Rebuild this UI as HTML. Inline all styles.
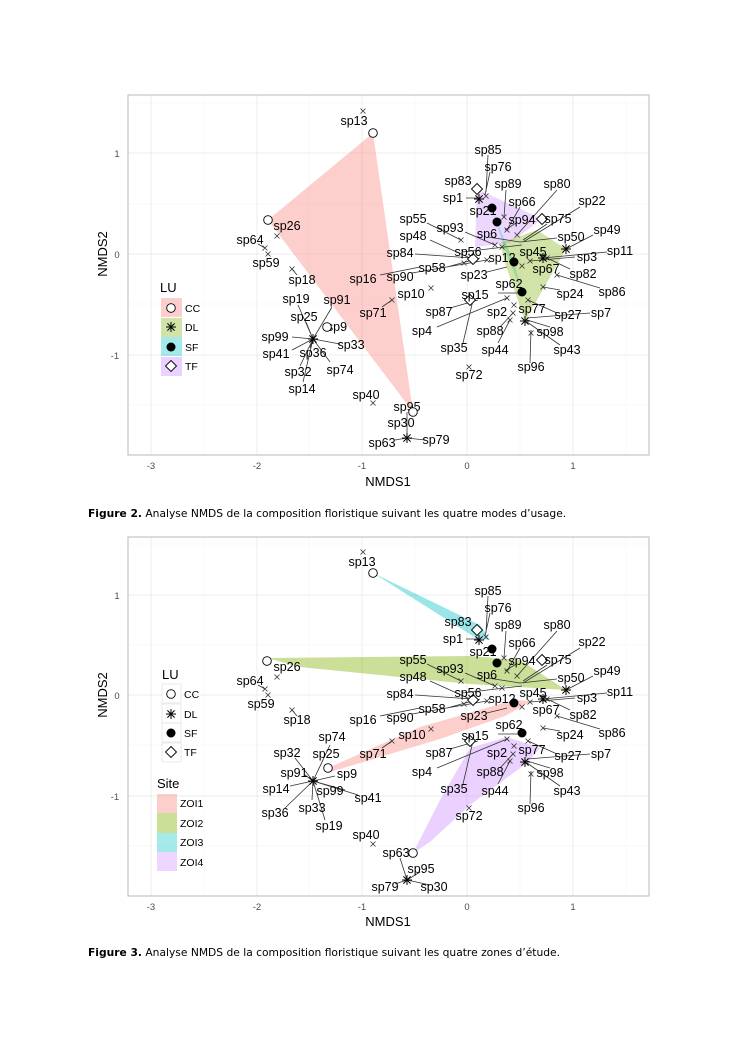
<!DOCTYPE html>
<html><head><meta charset="utf-8"><style>
body{margin:0;background:#fff;width:745px;height:1053px;overflow:hidden}
svg{position:absolute;left:0;top:0}
.l{font:12.5px "Liberation Sans",sans-serif;fill:#000;text-anchor:middle}
.t{font:9.5px "Liberation Sans",sans-serif;fill:#4d4d4d;text-anchor:middle}
.a{font:13px "Liberation Sans",sans-serif;fill:#000;text-anchor:middle}
.k{font:10.5px "Liberation Sans",sans-serif;fill:#000}
.c{font:10.7px "DejaVu Sans",sans-serif;fill:#000}
.ln{stroke:#333;stroke-width:.8;fill:none}
.mj{stroke:#e8e8e8;stroke-width:.8}
.mn{stroke:#f4f4f4;stroke-width:.6}
</style></head><body>
<svg width="745" height="1053" viewBox="0 0 745 1053">
<defs>
<g id="x"><path d="M-2.5,-2.5L2.5,2.5M-2.5,2.5L2.5,-2.5" stroke="#333" stroke-width=".8"/></g>
<g id="s"><path d="M-5,0H5M0,-5V5M-3.6,-3.6L3.6,3.6M-3.6,3.6L3.6,-3.6" stroke="#000" stroke-width="1"/></g>
<g id="o"><circle r="4.3" fill="#fff" stroke="#000" stroke-width=".9"/></g>
<g id="f"><circle r="4.5" fill="#000"/></g>
<g id="d"><path d="M0,-5.5L5.5,0L0,5.5L-5.5,0Z" fill="#fff" stroke="#000" stroke-width=".9"/></g>
</defs>

<!-- ============ FIGURE 2 ============ -->
<g id="p2">
<rect x="128" y="95" width="521" height="360" fill="#fff"/>
<g class="mn"><line x1="204" y1="95" x2="204" y2="455"/><line x1="309" y1="95" x2="309" y2="455"/><line x1="415" y1="95" x2="415" y2="455"/><line x1="520" y1="95" x2="520" y2="455"/><line x1="626" y1="95" x2="626" y2="455"/>
<line x1="128" y1="103" x2="649" y2="103"/><line x1="128" y1="204" x2="649" y2="204"/><line x1="128" y1="304" x2="649" y2="304"/><line x1="128" y1="405" x2="649" y2="405"/></g>
<g class="mj"><line x1="151" y1="95" x2="151" y2="455"/><line x1="257" y1="95" x2="257" y2="455"/><line x1="362" y1="95" x2="362" y2="455"/><line x1="467" y1="95" x2="467" y2="455"/><line x1="573" y1="95" x2="573" y2="455"/>
<line x1="128" y1="153" x2="649" y2="153"/><line x1="128" y1="254" x2="649" y2="254"/><line x1="128" y1="355" x2="649" y2="355"/></g>
<rect x="128" y="95" width="521" height="360" fill="none" stroke="#b8b8b8" stroke-width="1"/>
<polygon points="373,133 268,220 413,412" fill="#F8766D" fill-opacity=".35"/>
<polygon points="477,189 542,219 510,243 475,247" fill="#C77CFF" fill-opacity=".3"/>
<polygon points="492,208 497,222 514,262 522,292 505,250" fill="#00BFC4" fill-opacity=".3"/>
<polygon points="500,243 537,230 566,249 525,321 505,263" fill="#7CAE00" fill-opacity=".35"/>
<g class="ln"><path d="M313,339L298,305M313,339L332,307M313,339L306,322M313,339L292,337M313,339L340,344M313,339L292,350M313,339L310,348M313,339L300,366M313,339L330,362M313,339L303,382"/>
<path d="M407,438V412M407,438L395,440M407,438L425,440"/></g>
<g class="l">
<text x="296" y="303">sp19</text><text x="337" y="304">sp91</text><text x="304" y="321">sp25</text><text x="337" y="331">sp9</text>
<text x="275" y="341">sp99</text><text x="351" y="349">sp33</text><text x="276" y="358">sp41</text><text x="313" y="357">sp36</text>
<text x="298" y="376">sp32</text><text x="340" y="374">sp74</text><text x="302" y="393">sp14</text>
<text x="407" y="411">sp95</text><text x="401" y="427">sp30</text><text x="382" y="447">sp63</text><text x="436" y="444">sp79</text>
</g>
<use href="#s" x="313" y="339"/><use href="#s" x="407" y="438"/>
<use href="#o" x="373" y="133"/><use href="#o" x="268" y="220"/><use href="#o" x="327" y="327"/><use href="#o" x="413" y="412"/>
<text class="a" x="160" y="292" style="text-anchor:start">LU</text>
<rect x="161" y="298" width="21" height="19" fill="#F8766D" fill-opacity=".35"/>
<rect x="161" y="318" width="21" height="19" fill="#7CAE00" fill-opacity=".35"/>
<rect x="161" y="337" width="21" height="19" fill="#00BFC4" fill-opacity=".35"/>
<rect x="161" y="357" width="21" height="19" fill="#C77CFF" fill-opacity=".35"/>
<use href="#o" x="171" y="308"/><use href="#s" x="171" y="327"/><use href="#f" x="171" y="347"/><use href="#d" x="171" y="366"/>
<g class="k"><text x="185" y="312">CC</text><text x="185" y="331">DL</text><text x="185" y="351">SF</text><text x="185" y="370">TF</text></g>
<g class="t"><text x="117" y="157">1</text><text x="117" y="258">0</text><text x="115" y="359">-1</text>
<text x="151" y="469">-3</text><text x="257" y="469">-2</text><text x="362" y="469">-1</text><text x="467" y="469">0</text><text x="573" y="469">1</text></g>
<text class="a" x="388" y="486">NMDS1</text>
<text class="a" transform="translate(107,254) rotate(-90)">NMDS2</text>
</g>

<g id="sh">
<g class="ln">
<path d="M427,223L461,240M430,240L470,258M415,254L472,258M380,275L420,267M412,273L487,260M447,267L480,258M465,232L495,245M557,190L517,235M580,207L523,242M547,224L523,240M557,238L520,242M593,235L566,249M607,252L543,258M575,257L530,261M570,269L547,258M600,288L557,275M560,290L543,287M498,293L522,293M437,327L507,298M463,343L473,300M498,343L510,320M500,327L513,313M550,327L527,320M560,345L527,322M530,363L531,330M590,313L527,318M557,313L528,300M506,190L504,217M490,172L485,195M488,155L486,192M520,207L507,230M516,223L505,230M487,272L507,267M480,198L466,198M488,237L520,242M450,308L478,300M462,252L522,245"/>
<path d="M265,248L258,244M292,269L297,275M392,300L382,307"/>
</g>
<g>
<use href="#x" x="363" y="111"/><use href="#x" x="277" y="236"/><use href="#x" x="265" y="248"/><use href="#x" x="268" y="254"/><use href="#x" x="292" y="269"/><use href="#x" x="392" y="300"/><use href="#x" x="373" y="403"/><use href="#x" x="431" y="288"/>
<use href="#x" x="461" y="240"/><use href="#x" x="504" y="217"/><use href="#x" x="486" y="196"/><use href="#x" x="507" y="230"/><use href="#x" x="517" y="235"/><use href="#x" x="495" y="245"/><use href="#x" x="502" y="247"/>
<use href="#x" x="530" y="261"/><use href="#x" x="547" y="258"/><use href="#x" x="557" y="275"/><use href="#x" x="543" y="287"/><use href="#x" x="528" y="300"/><use href="#x" x="507" y="298"/><use href="#x" x="514" y="305"/><use href="#x" x="513" y="313"/><use href="#x" x="510" y="320"/><use href="#x" x="531" y="333"/><use href="#x" x="469" y="367"/><use href="#x" x="487" y="260"/><use href="#x" x="522" y="266"/><use href="#x" x="464" y="263"/>
</g>
<use href="#s" x="479" y="199"/><use href="#s" x="566" y="249"/><use href="#s" x="543" y="258"/><use href="#s" x="525" y="321"/>
<use href="#f" x="492" y="208"/><use href="#f" x="497" y="222"/><use href="#f" x="514" y="262"/><use href="#f" x="522" y="292"/>
<use href="#d" x="477" y="189"/><use href="#d" x="542" y="219"/><use href="#d" x="473" y="259"/><use href="#d" x="470" y="300"/>
<g class="l">
<text x="354" y="125">sp13</text><text x="287" y="230">sp26</text><text x="250" y="244">sp64</text><text x="266" y="267">sp59</text><text x="302" y="284">sp18</text>
<text x="373" y="317">sp71</text><text x="363" y="283">sp16</text><text x="400" y="281">sp90</text><text x="400" y="257">sp84</text><text x="411" y="298">sp10</text><text x="366" y="399">sp40</text>
<text x="488" y="154">sp85</text><text x="498" y="171">sp76</text><text x="458" y="185">sp83</text><text x="508" y="188">sp89</text><text x="453" y="202">sp1</text>
<text x="522" y="206">sp66</text><text x="483" y="215">sp21</text><text x="522" y="224">sp94</text><text x="557" y="188">sp80</text><text x="592" y="205">sp22</text>
<text x="558" y="223">sp75</text><text x="413" y="223">sp55</text><text x="450" y="232">sp93</text><text x="413" y="240">sp48</text><text x="487" y="238">sp6</text>
<text x="571" y="241">sp50</text><text x="607" y="234">sp49</text><text x="468" y="256">sp56</text><text x="502" y="262">sp12</text><text x="533" y="256">sp45</text>
<text x="620" y="255">sp11</text><text x="587" y="261">sp3</text><text x="432" y="272">sp58</text><text x="474" y="279">sp23</text><text x="546" y="273">sp67</text>
<text x="583" y="278">sp82</text><text x="509" y="288">sp62</text><text x="612" y="296">sp86</text><text x="570" y="298">sp24</text><text x="475" y="299">sp15</text>
<text x="439" y="316">sp87</text><text x="497" y="316">sp2</text><text x="532" y="313">sp77</text><text x="568" y="319">sp27</text><text x="601" y="317">sp7</text>
<text x="422" y="335">sp4</text><text x="490" y="335">sp88</text><text x="550" y="336">sp98</text><text x="454" y="352">sp35</text><text x="495" y="354">sp44</text>
<text x="567" y="354">sp43</text><text x="531" y="371">sp96</text><text x="469" y="379">sp72</text>
</g>
</g>

<text class="c" x="88" y="517"><tspan font-weight="bold">Figure 2.</tspan> Analyse NMDS de la composition floristique suivant les quatre modes d’usage.</text>

<!-- ============ FIGURE 3 ============ -->
<g>
<rect x="128" y="537" width="521" height="359" fill="#fff"/>
<g class="mn"><line x1="204" y1="537" x2="204" y2="896"/><line x1="309" y1="537" x2="309" y2="896"/><line x1="415" y1="537" x2="415" y2="896"/><line x1="520" y1="537" x2="520" y2="896"/><line x1="626" y1="537" x2="626" y2="896"/>
<line x1="128" y1="544" x2="649" y2="544"/><line x1="128" y1="645" x2="649" y2="645"/><line x1="128" y1="745" x2="649" y2="745"/><line x1="128" y1="846" x2="649" y2="846"/></g>
<g class="mj"><line x1="151" y1="537" x2="151" y2="896"/><line x1="257" y1="537" x2="257" y2="896"/><line x1="362" y1="537" x2="362" y2="896"/><line x1="467" y1="537" x2="467" y2="896"/><line x1="573" y1="537" x2="573" y2="896"/>
<line x1="128" y1="595" x2="649" y2="595"/><line x1="128" y1="695" x2="649" y2="695"/><line x1="128" y1="796" x2="649" y2="796"/></g>
<rect x="128" y="537" width="521" height="359" fill="none" stroke="#b8b8b8" stroke-width="1"/>
<polygon points="373,573 480,625 490,640 476,638" fill="#00BFC4" fill-opacity=".4"/>
<polygon points="267,658 470,656 520,660 566,690 470,684 300,667" fill="#7CAE00" fill-opacity=".4"/>
<polygon points="328,768 420,727 514,700 532,701 505,716 440,739 330,772" fill="#F8766D" fill-opacity=".35"/>
<polygon points="413,853 440,800 470,748 507,737 540,748 527,763 470,805 430,842" fill="#C77CFF" fill-opacity=".35"/>
<g class="ln"><path d="M313,781L330,745M313,781L295,758M313,781L305,775M313,781L290,786M313,781L285,808M313,781L312,800M313,781L325,820M313,781L345,790M313,781L358,795M313,781L335,776M313,781L323,760"/>
<path d="M407,880L400,858M407,880L420,872M407,880L395,884M407,880L430,885"/></g>
<g class="l">
<text x="332" y="741">sp74</text><text x="287" y="757">sp32</text><text x="326" y="758">sp25</text><text x="294" y="777">sp91</text><text x="347" y="778">sp9</text>
<text x="276" y="793">sp14</text><text x="330" y="795">sp99</text><text x="368" y="802">sp41</text><text x="275" y="817">sp36</text><text x="312" y="812">sp33</text><text x="329" y="830">sp19</text>
<text x="396" y="857">sp63</text><text x="421" y="873">sp95</text><text x="385" y="891">sp79</text><text x="434" y="891">sp30</text>
</g>
<use href="#s" x="313" y="781"/><use href="#s" x="407" y="880"/>
<use href="#o" x="373" y="573"/><use href="#o" x="267" y="661"/><use href="#o" x="328" y="768"/><use href="#o" x="413" y="853"/>
<text class="a" x="162" y="679" style="text-anchor:start">LU</text>
<rect x="162" y="684" width="19" height="19" fill="#fff" stroke="#ddd" stroke-width=".6"/>
<rect x="162" y="704" width="19" height="19" fill="#fff" stroke="#ddd" stroke-width=".6"/>
<rect x="162" y="723" width="19" height="19" fill="#fff" stroke="#ddd" stroke-width=".6"/>
<rect x="162" y="743" width="19" height="19" fill="#fff" stroke="#ddd" stroke-width=".6"/>
<use href="#o" x="171" y="694"/><use href="#s" x="171" y="714"/><use href="#f" x="171" y="733"/><use href="#d" x="171" y="752"/>
<g class="k"><text x="184" y="698">CC</text><text x="184" y="718">DL</text><text x="184" y="737">SF</text><text x="184" y="756">TF</text></g>
<text class="a" x="157" y="788" style="text-anchor:start">Site</text>
<rect x="157" y="794" width="20" height="19" fill="#F8766D" fill-opacity=".35"/>
<rect x="157" y="813" width="20" height="20" fill="#7CAE00" fill-opacity=".4"/>
<rect x="157" y="833" width="20" height="19" fill="#00BFC4" fill-opacity=".35"/>
<rect x="157" y="852" width="20" height="19" fill="#C77CFF" fill-opacity=".3"/>
<g class="k"><text x="180" y="807">ZOI1</text><text x="180" y="827">ZOI2</text><text x="180" y="846">ZOI3</text><text x="180" y="866">ZOI4</text></g>
<g class="t"><text x="117" y="599">1</text><text x="117" y="699">0</text><text x="115" y="800">-1</text>
<text x="151" y="910">-3</text><text x="257" y="910">-2</text><text x="362" y="910">-1</text><text x="467" y="910">0</text><text x="573" y="910">1</text></g>
<text class="a" x="388" y="926">NMDS1</text>
<text class="a" transform="translate(107,695) rotate(-90)">NMDS2</text>
</g>
<g transform="translate(0,441)">
<g class="ln">
<path d="M427,223L461,240M430,240L470,258M415,254L472,258M380,275L420,267M412,273L487,260M447,267L480,258M465,232L495,245M557,190L517,235M580,207L523,242M547,224L523,240M557,238L520,242M593,235L566,249M607,252L543,258M575,257L530,261M570,269L547,258M600,288L557,275M560,290L543,287M498,293L522,293M437,327L507,298M463,343L473,300M498,343L510,320M500,327L513,313M550,327L527,320M560,345L527,322M530,363L531,330M590,313L527,318M557,313L528,300M506,190L504,217M490,172L485,195M488,155L486,192M520,207L507,230M516,223L505,230M487,272L507,267M480,198L466,198M488,237L520,242M450,308L478,300M462,252L522,245"/>
<path d="M265,248L258,244M292,269L297,275M392,300L382,307"/>
</g>
<g>
<use href="#x" x="363" y="111"/><use href="#x" x="277" y="236"/><use href="#x" x="265" y="248"/><use href="#x" x="268" y="254"/><use href="#x" x="292" y="269"/><use href="#x" x="392" y="300"/><use href="#x" x="373" y="403"/><use href="#x" x="431" y="288"/>
<use href="#x" x="461" y="240"/><use href="#x" x="504" y="217"/><use href="#x" x="486" y="196"/><use href="#x" x="507" y="230"/><use href="#x" x="517" y="235"/><use href="#x" x="495" y="245"/><use href="#x" x="502" y="247"/>
<use href="#x" x="530" y="261"/><use href="#x" x="547" y="258"/><use href="#x" x="557" y="275"/><use href="#x" x="543" y="287"/><use href="#x" x="528" y="300"/><use href="#x" x="507" y="298"/><use href="#x" x="514" y="305"/><use href="#x" x="513" y="313"/><use href="#x" x="510" y="320"/><use href="#x" x="531" y="333"/><use href="#x" x="469" y="367"/><use href="#x" x="487" y="260"/><use href="#x" x="522" y="266"/><use href="#x" x="464" y="263"/>
</g>
<use href="#s" x="479" y="199"/><use href="#s" x="566" y="249"/><use href="#s" x="543" y="258"/><use href="#s" x="525" y="321"/>
<use href="#f" x="492" y="208"/><use href="#f" x="497" y="222"/><use href="#f" x="514" y="262"/><use href="#f" x="522" y="292"/>
<use href="#d" x="477" y="189"/><use href="#d" x="542" y="219"/><use href="#d" x="473" y="259"/><use href="#d" x="470" y="300"/>
<g class="l">
<text x="362" y="125">sp13</text><text x="287" y="230">sp26</text><text x="250" y="244">sp64</text><text x="261" y="267">sp59</text><text x="297" y="283">sp18</text>
<text x="373" y="317">sp71</text><text x="363" y="283">sp16</text><text x="400" y="281">sp90</text><text x="400" y="257">sp84</text><text x="412" y="298">sp10</text><text x="366" y="398">sp40</text>
<text x="488" y="154">sp85</text><text x="498" y="171">sp76</text><text x="458" y="185">sp83</text><text x="508" y="188">sp89</text><text x="453" y="202">sp1</text>
<text x="522" y="206">sp66</text><text x="483" y="215">sp21</text><text x="522" y="224">sp94</text><text x="557" y="188">sp80</text><text x="592" y="205">sp22</text>
<text x="558" y="223">sp75</text><text x="413" y="223">sp55</text><text x="450" y="232">sp93</text><text x="413" y="240">sp48</text><text x="487" y="238">sp6</text>
<text x="571" y="241">sp50</text><text x="607" y="234">sp49</text><text x="468" y="256">sp56</text><text x="502" y="262">sp12</text><text x="533" y="256">sp45</text>
<text x="620" y="255">sp11</text><text x="587" y="261">sp3</text><text x="432" y="272">sp58</text><text x="474" y="279">sp23</text><text x="546" y="273">sp67</text>
<text x="583" y="278">sp82</text><text x="509" y="288">sp62</text><text x="612" y="296">sp86</text><text x="570" y="298">sp24</text><text x="475" y="299">sp15</text>
<text x="439" y="316">sp87</text><text x="497" y="316">sp2</text><text x="532" y="313">sp77</text><text x="568" y="319">sp27</text><text x="601" y="317">sp7</text>
<text x="422" y="335">sp4</text><text x="490" y="335">sp88</text><text x="550" y="336">sp98</text><text x="454" y="352">sp35</text><text x="495" y="354">sp44</text>
<text x="567" y="354">sp43</text><text x="531" y="371">sp96</text><text x="469" y="379">sp72</text>
</g>
</g>

<text class="c" x="88" y="956"><tspan font-weight="bold">Figure 3.</tspan> Analyse NMDS de la composition floristique suivant les quatre zones d’étude.</text>
</svg>
</body></html>
